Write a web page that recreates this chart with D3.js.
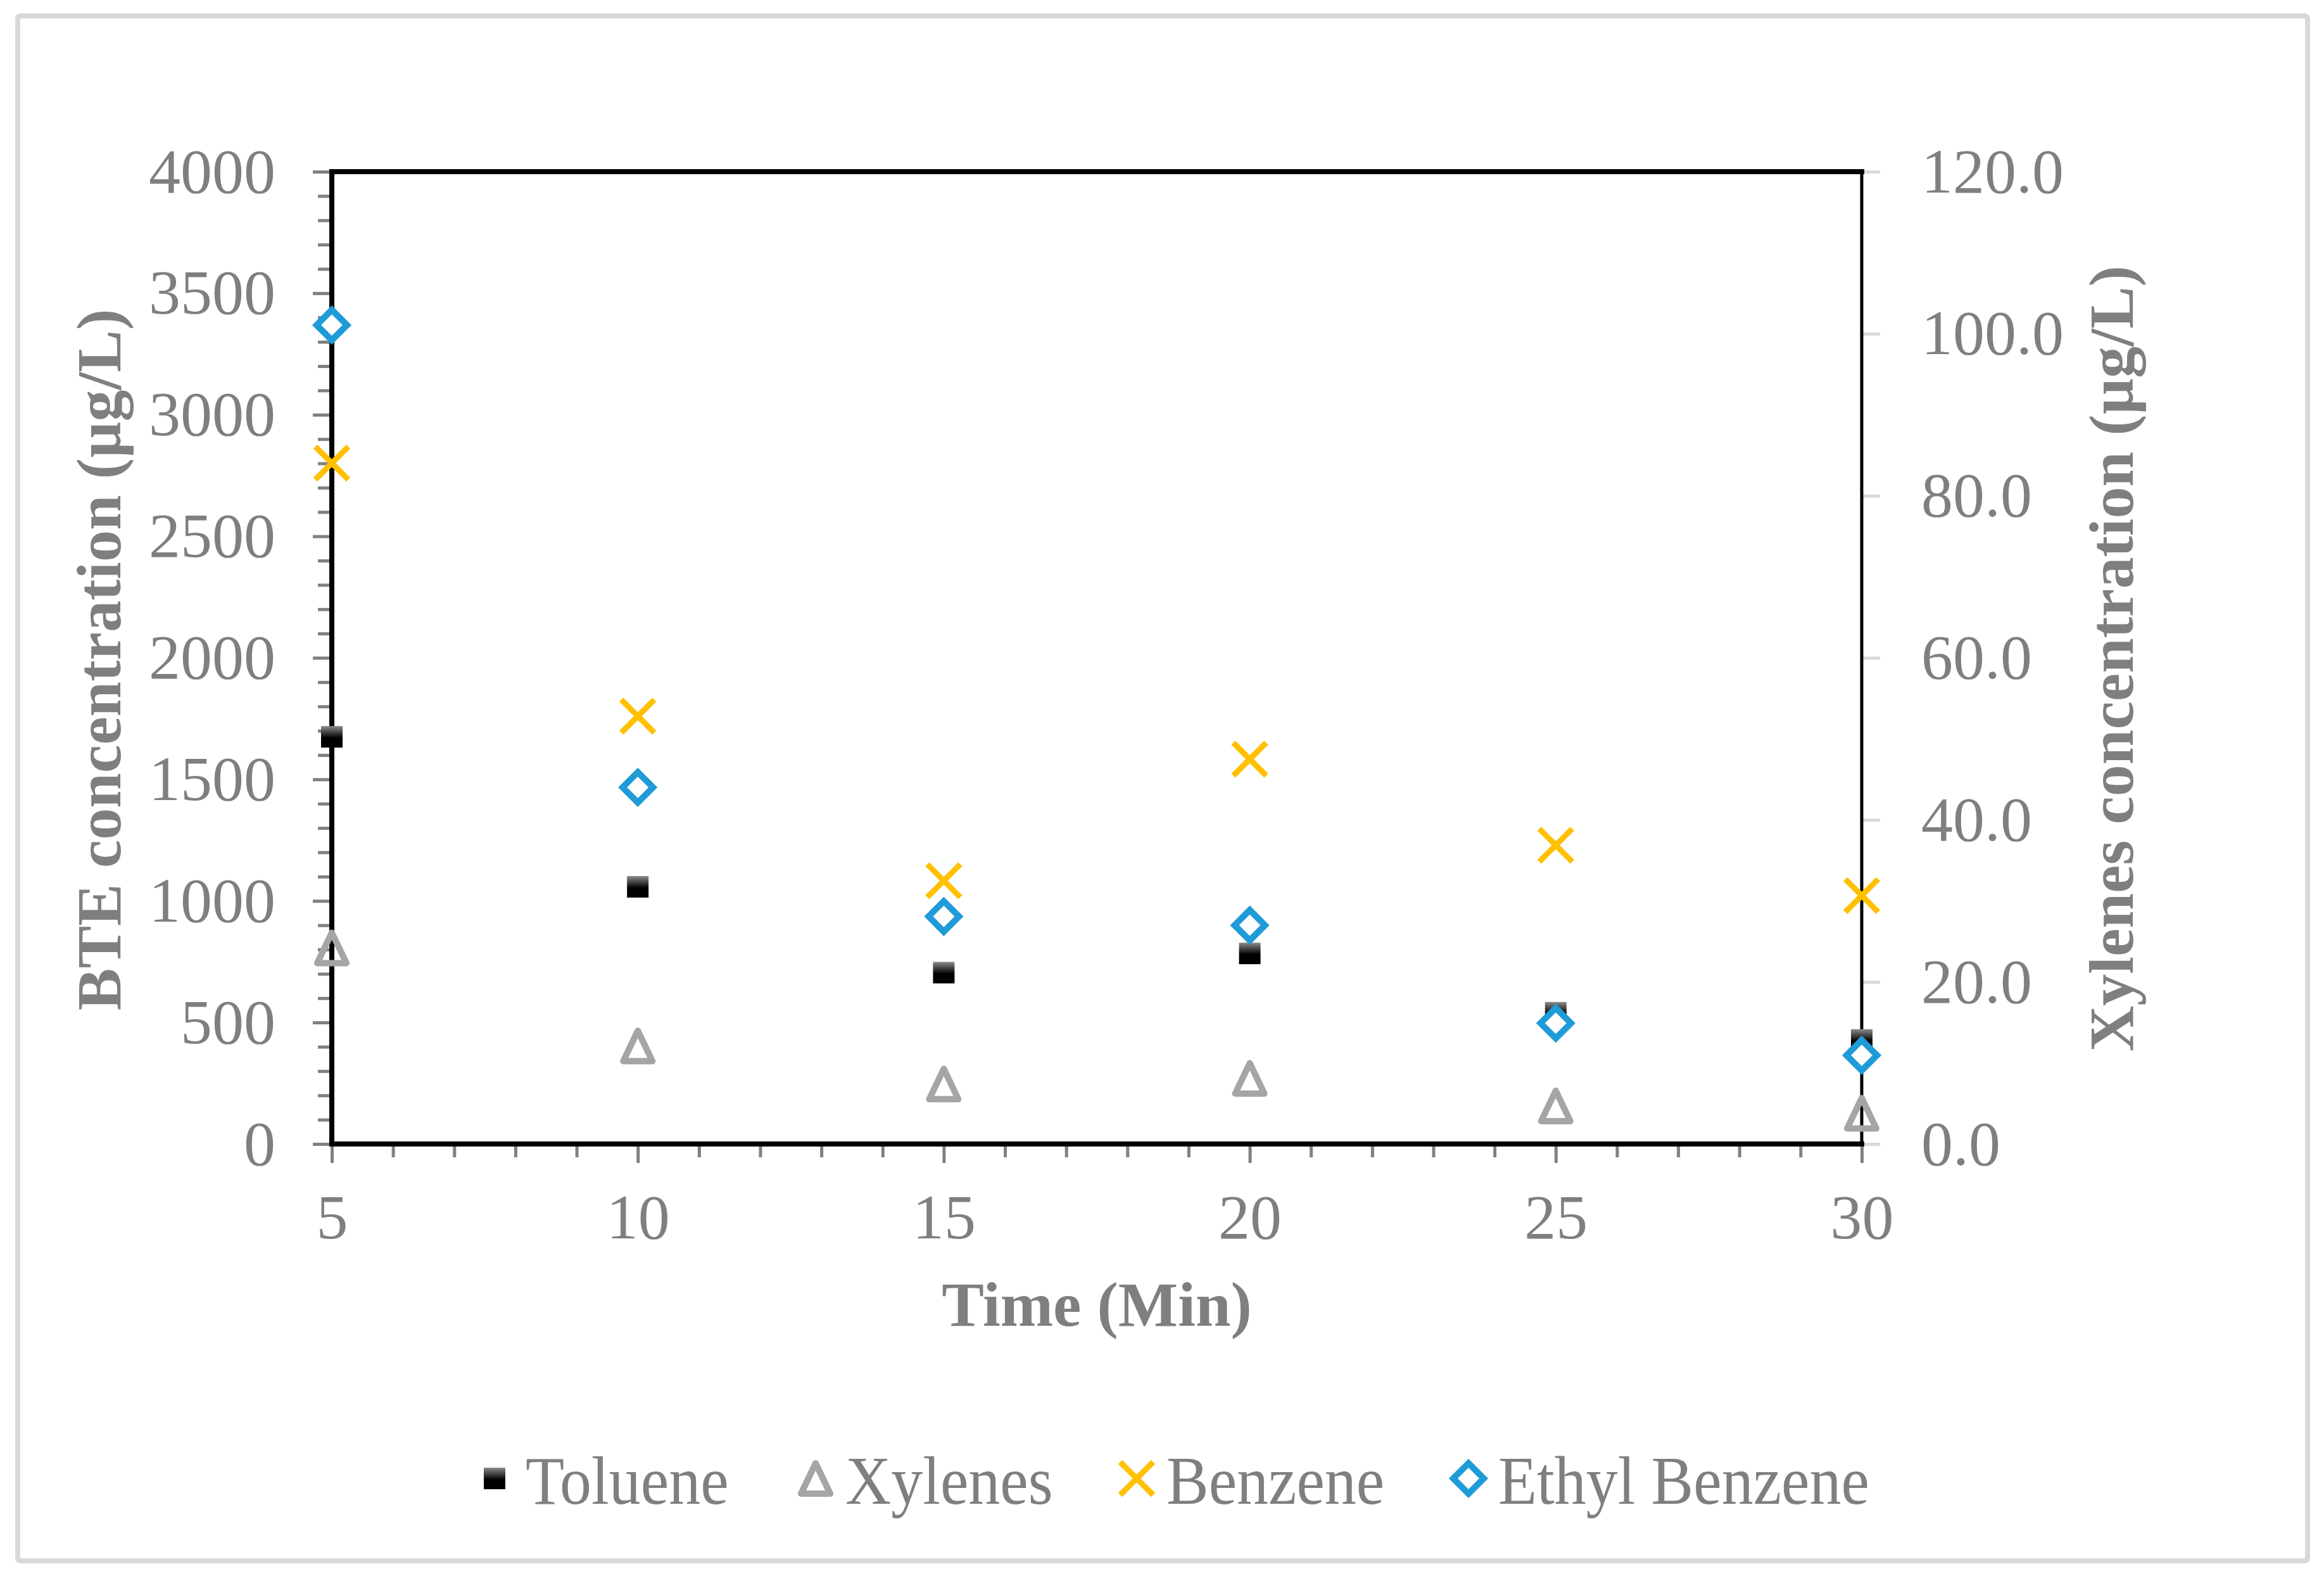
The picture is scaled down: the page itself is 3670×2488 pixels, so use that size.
<!DOCTYPE html>
<html>
<head>
<meta charset="utf-8">
<script src="https://cdn.jsdelivr.net/npm/d3@7"></script>
<style>
  html, body { margin: 0; padding: 0; background: #ffffff; }
  svg { display: block; }
</style>
</head>
<body>
<script>
// ---- Data ----
const times = [5, 10, 15, 20, 25, 30];
const toluene = [1675, 1058, 705, 784, 540, 428];
const xylenes = [24.2, 12.1, 7.4, 8.1, 4.7, 3.8];       // right axis
const benzene = [2801, 1760, 1083, 1583, 1229, 1022];
const ethylBenzene = [3369, 1467, 936, 900, 497, 365];
const seriesNames = ["Toluene", "Xylenes", "Benzene", "Ethyl Benzene"];
const xTicks = [5, 10, 15, 20, 25, 30];
const yLeftTicks = [0, 500, 1000, 1500, 2000, 2500, 3000, 3500, 4000];
const yRightTicks = [0, 20, 40, 60, 80, 100, 120];
const xTitle = "Time (Min)";
const yLeftTitle = "BTE concentration (µg/L)";
const yRightTitle = "Xylenes concentration (µg/L)";

// ---- Layout ----
const W = 3670, H = 2488;
const L = 524, R = 2940, T = 271, B = 1806;
const FONT = "'Liberation Serif', 'Times New Roman', serif";
const GRAY = "#7f7f7f";

const svg = d3.select("body").append("svg")
  .attr("width", W).attr("height", H)
  .attr("viewBox", `0 0 ${W} ${H}`);

const defs = svg.append("defs");
const grad = defs.append("linearGradient").attr("id", "tolGrad")
  .attr("x1", 0).attr("y1", 0).attr("x2", 0).attr("y2", 1);
grad.append("stop").attr("offset", "0%").attr("stop-color", "#8c8c8c");
grad.append("stop").attr("offset", "55%").attr("stop-color", "#000000");
grad.append("stop").attr("offset", "100%").attr("stop-color", "#000000");

svg.append("rect").attr("width", W).attr("height", H).attr("fill", "#fff");
// outer chart border
svg.append("rect").attr("x", 28).attr("y", 25).attr("width", 3616).attr("height", 2439)
  .attr("rx", 4).attr("fill", "none").attr("stroke", "#d9d9d9").attr("stroke-width", 8);

const x = d3.scaleLinear().domain([5, 30]).range([L, R]);
const yL = d3.scaleLinear().domain([0, 4000]).range([B, T]);
const yR = d3.scaleLinear().domain([0, 120]).range([B, T]);

function styleAxis(g, color) {
  g.select(".domain").remove();
  g.selectAll("line").attr("stroke", color).attr("stroke-width", 5);
  g.selectAll("text").attr("fill", GRAY).attr("font-family", FONT).attr("font-size", 100);
}

// Left axis minor ticks
const leftMinor = d3.range(0, 4001, 100).filter(v => v % 500 !== 0);
svg.append("g").attr("transform", `translate(${L},0)`)
  .call(d3.axisLeft(yL).tickValues(leftMinor).tickSize(22).tickFormat(""))
  .call(g => styleAxis(g, "#808080"));
// Left axis major
svg.append("g").attr("transform", `translate(${L},0)`)
  .call(d3.axisLeft(yL).tickValues(yLeftTicks).tickSize(30).tickPadding(59).tickFormat(d3.format("d")))
  .call(g => styleAxis(g, "#808080"));

// Bottom axis minor
const xMinor = d3.range(5, 31, 1).filter(v => v % 5 !== 0);
svg.append("g").attr("transform", `translate(0,${B})`)
  .call(d3.axisBottom(x).tickValues(xMinor).tickSize(21).tickFormat(""))
  .call(g => styleAxis(g, "#808080"));
svg.append("g").attr("transform", `translate(0,${B})`)
  .call(d3.axisBottom(x).tickValues(xTicks).tickSize(30).tickPadding(48).tickFormat(d3.format("d")))
  .call(g => styleAxis(g, "#808080"));

// Right axis
svg.append("g").attr("transform", `translate(${R},0)`)
  .call(d3.axisRight(yR).tickValues(yRightTicks).tickSize(29).tickPadding(65).tickFormat(d3.format(".1f")))
  .call(g => styleAxis(g, "#d9d9d9"));

// Plot frame
svg.append("path")
  .attr("d", `M${R},${T} L${L},${T} L${L},${B} L${R},${B}`)
  .attr("fill", "none").attr("stroke", "#000").attr("stroke-width", 8)
  .attr("stroke-linejoin", "miter").attr("stroke-linecap", "square");
svg.append("line").attr("x1", R).attr("x2", R).attr("y1", T).attr("y2", B)
  .attr("stroke", "#000").attr("stroke-width", 5);

// Axis titles
svg.append("text").attr("x", (L + R) / 2).attr("y", 2093)
  .attr("text-anchor", "middle").attr("font-family", FONT).attr("font-weight", "bold")
  .attr("font-size", 100).attr("fill", GRAY).text(xTitle);
svg.append("text").attr("transform", `translate(190,${(T + B) / 2 + 3}) rotate(-90)`)
  .attr("text-anchor", "middle").attr("font-family", FONT).attr("font-weight", "bold")
  .attr("font-size", 100).attr("fill", GRAY).text(yLeftTitle);
svg.append("text").attr("transform", `translate(3368,${(T + B) / 2 + 1}) rotate(-90)`)
  .attr("text-anchor", "middle").attr("font-family", FONT).attr("font-weight", "bold")
  .attr("font-size", 100).attr("fill", GRAY).text(yRightTitle);

// ---- Marker shapes ----
const markers = {
  square: g => g.append("rect").attr("x", -17).attr("y", -17).attr("width", 34).attr("height", 34)
    .attr("fill", "url(#tolGrad)"),
  triangle: g => g.append("path").attr("d", "M0,-24 L23,24 L-23,24 Z")
    .attr("fill", "none").attr("stroke", "#a5a5a5").attr("stroke-width", 10).attr("stroke-linejoin", "round"),
  cross: g => g.append("path").attr("d", "M-26,-26 L26,26 M26,-26 L-26,26")
    .attr("fill", "none").attr("stroke", "#ffc000").attr("stroke-width", 9),
  diamond: g => g.append("path").attr("d", "M0,-24 L24,0 L0,24 L-24,0 Z")
    .attr("fill", "#fff").attr("stroke", "#1f9bd7").attr("stroke-width", 10).attr("stroke-linejoin", "miter")
};

const series = [
  { name: seriesNames[0], values: toluene, scale: yL, shape: "square" },
  { name: seriesNames[1], values: xylenes, scale: yR, shape: "triangle" },
  { name: seriesNames[2], values: benzene, scale: yL, shape: "cross" },
  { name: seriesNames[3], values: ethylBenzene, scale: yL, shape: "diamond" }
];

series.forEach(s => {
  const g = svg.append("g");
  s.values.forEach((v, i) => {
    const mg = g.append("g").attr("transform", `translate(${x(times[i])},${s.scale(v)})`);
    markers[s.shape](mg);
  });
});

// ---- Legend ----
const legendX = [781, 1288, 1795, 2319];
const legendY = 2334;
series.forEach((s, i) => {
  const mg = svg.append("g").attr("transform", `translate(${legendX[i]},${legendY})`);
  markers[s.shape](mg);
  svg.append("text")
    .attr("transform", `translate(${legendX[i] + (i === 0 ? 49 : 47)},2374) scale(1,1.07)`)
    .attr("font-family", FONT).attr("font-size", 100).attr("fill", GRAY).text(s.name);
});
</script>
</body>
</html>
